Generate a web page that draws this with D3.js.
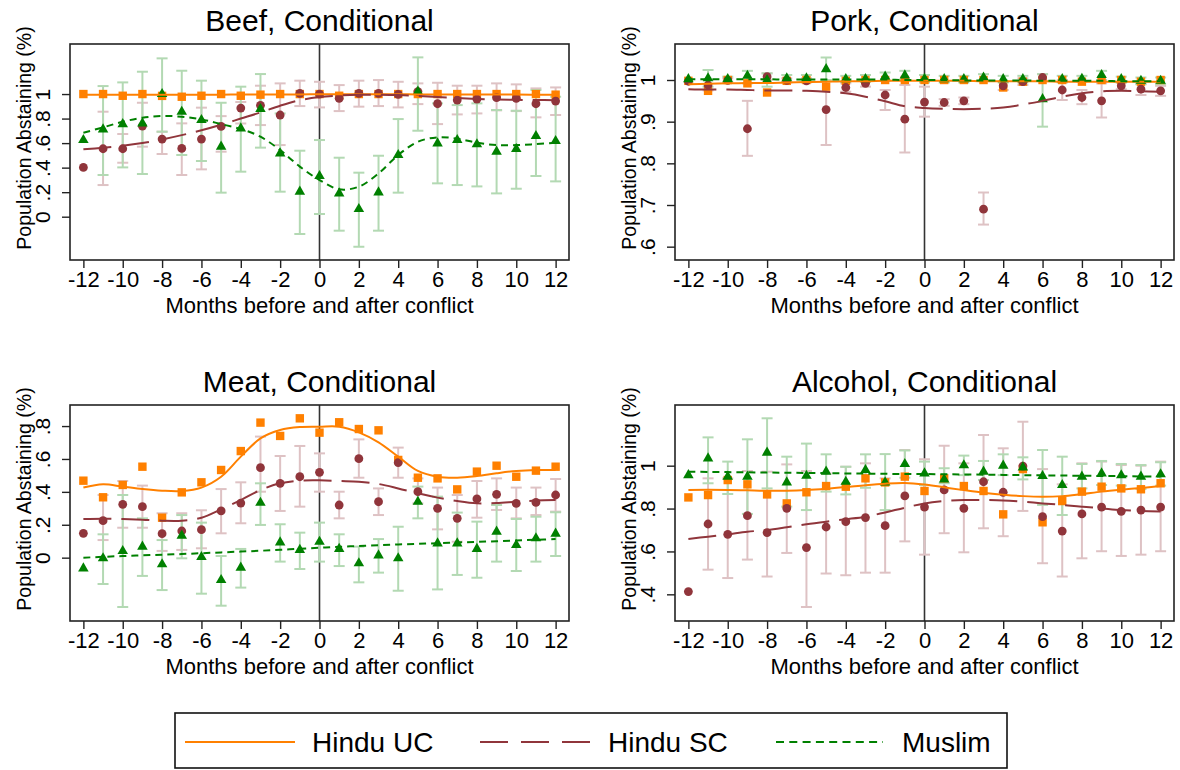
<!DOCTYPE html>
<html>
<head>
<meta charset="utf-8">
<script src="https://cdn.jsdelivr.net/npm/d3@7"></script>
<style>
  body { margin: 0; background: #fff; }
  svg { display: block; font-family: Arial, "Liberation Sans", sans-serif; }
</style>
</head>
<body>
<div id="chart"></div>
<script>
// Monate relativ zum Konflikt
var months = [-12,-11,-10,-9,-8,-7,-6,-5,-4,-3,-2,-1,0,1,2,3,4,5,6,7,8,9,10,11,12];
var monthTicks = [-12,-10,-8,-6,-4,-2,0,2,4,6,8,10,12];
var seriesNames = ["Hindu UC", "Hindu SC", "Muslim"];

// Beef
var beefTicks = [0, .2, .4, .6, .8, 1];
var beefUC = [1.0,1.0,.986,1.0,.985,.978,.986,1.0,.986,.995,1.0,1.0,1.0,.986,1.0,1.0,1.0,1.0,1.0,1.0,1.0,1.0,1.0,1.0,.995];
var beefSC = [.402,.554,.554,.739,.633,.557,.633,.736,.886,.908,.829,1.005,1.0,.965,1.005,1.005,.997,1.02,.921,.951,.959,.97,.965,.921,.943];
var beefMU = [.625,.712,.755,.761,1.0,.856,.788,.571,.72,.878,.516,.204,.332,.19,.063,.198,.503,1.02,.598,.625,.59,.53,.552,.658,.617];
var beefSCLo = [null,.258,.44,.571,.511,.34,.386,.53,.76,.747,.584,.902,.891,.861,.897,.902,.891,.918,.755,.834,.842,.867,.861,.81,.829];
var beefSCHi = [null,.856,.674,.929,.693,.761,.889,.82,.935,1.068,1.087,1.109,1.1,1.073,1.109,1.114,1.1,1.087,1.092,1.068,1.068,1.087,1.079,1.046,1.054];
var beefMULo = [null,.34,.402,.348,.693,.503,.454,.196,.367,.563,.204,-.141,.022,-.114,-.245,-.114,.196,.701,.272,.258,.247,.19,.228,.332,.288];
var beefMUHi = [null,1.065,1.095,1.182,1.291,1.19,1.109,.929,1.06,1.163,.842,.538,.625,.481,.359,.497,.796,1.299,.924,.91,.924,.87,.864,1.033,.978];
var beefUCFit = [.994,.994,.994,.994,.995,.995,.995,.995,.996,.996,.997,.997,.998,.998,.998,.998,.998,.997,.997,.997,.996,.996,.996,.995,.995];
var beefSCFit = [.549,.562,.578,.600,.630,.665,.705,.75,.80,.85,.905,.950,.975,.988,.994,.995,.992,.985,.975,.967,.960,.956,.953,.951,.950];
var beefMUFit = [.685,.728,.774,.807,.821,.815,.793,.755,.715,.652,.543,.408,.299,.223,.245,.353,.503,.611,.647,.636,.603,.584,.584,.592,.603];

// Pork
var porkTicks = [.6, .7, .8, .9, 1];
var porkUC = [.998,.974,1.0,.992,.970,.998,1.0,.984,.998,1.0,1.0,1.0,1.0,1.0,1.0,1.0,.982,.996,1.0,1.0,.996,1.0,1.0,.996,1.0];
var porkSC = [.997,.988,.999,.883,1.008,.999,.998,.929,.982,.992,.964,.906,.947,.946,.95,.69,.986,.996,1.006,.976,.958,.95,.986,.978,.974];
var porkMU = [1.002,1.004,1.002,1.01,1.0,1.004,1.004,1.026,1.002,1.002,1.008,1.011,1.003,1.002,1.002,1.006,1.002,1.002,.954,1.002,1.003,1.012,1.002,.998,.998];
var porkSCLo = [null,.975,.994,.818,1.0,.994,.994,.844,.972,.984,.928,.826,.912,.938,.942,.653,.976,.988,.998,.952,.942,.91,.978,.964,.962];
var porkSCHi = [null,1.0,1.004,.95,1.016,1.004,1.004,1.0,.992,1.0,.976,.988,.984,.954,.958,.73,.996,1.004,1.014,1.0,.976,.992,.994,.99,.986];
var porkMULo = [null,.984,.996,.992,.984,.996,.996,1.0,.996,.996,.998,1.0,.994,.994,.994,.998,.994,.994,.888,.994,.996,1.0,.994,.99,.99];
var porkMUHi = [null,1.024,1.008,1.022,1.016,1.012,1.012,1.054,1.01,1.012,1.018,1.022,1.012,1.01,1.01,1.014,1.01,1.01,1.014,1.01,1.01,1.022,1.008,1.006,1.006];
var porkUCFit = [.990,.991,.992,.993,.993,.994,.995,.996,.997,.997,.998,.998,.998,.998,.998,.997,.997,.997,.997,.996,.996,.996,.996,.996,.996];
var porkSCFit = [.978,.977,.977,.976,.975,.975,.974,.972,.968,.960,.949,.937,.933,.931,.930,.931,.934,.941,.950,.960,.968,.973,.974,.973,.972];
var porkMUFit = [1.002,1.002,1.002,1.002,1.002,1.001,1.001,1.001,1.001,1.001,1.001,1.0,1.0,1.0,.999,.999,.999,.999,.998,.998,.998,.998,.997,.997,.997];

// Meat
var meatTicks = [0, .2, .4, .6, .8];
var meatUC = [.468,.367,.442,.553,.243,.397,.458,.533,.648,.821,.74,.847,.76,.823,.782,.774,.594,.486,.482,.415,.523,.559,.492,.529,.553];
var meatSC = [.148,.225,.324,.31,.146,.162,.17,.284,.332,.547,.452,.492,.519,.32,.602,.34,.578,.401,.3,.239,.357,.385,.33,.336,.381];
var meatMU = [-.065,-.004,.04,.067,-.04,.134,.004,-.136,-.061,.334,.093,.047,.097,.053,-.034,.014,-.004,.34,.087,.087,.053,.158,.077,.118,.146];
var meatSCLo = [null,.107,.182,.182,.041,.047,.057,.148,.209,.401,.284,.31,.401,.239,.486,.259,.486,.33,.172,.097,.243,.29,.239,.259,.28];
var meatSCHi = [null,.381,.466,.438,.27,.27,.288,.417,.458,.736,.618,.679,.634,.401,.719,.421,.669,.482,.426,.381,.466,.482,.426,.426,.478];
var meatMULo = [null,-.16,-.3,-.111,-.197,-.004,-.219,-.292,-.182,.199,-.024,-.069,-.024,-.051,-.15,-.091,-.201,.239,-.193,-.105,-.122,-.024,-.081,-.024,.01];
var meatMUHi = [null,.142,.381,.239,.107,.259,.213,.01,.053,.452,.203,.152,.213,.142,.067,.113,.188,.432,.371,.274,.219,.32,.235,.249,.276];
var meatUCFit = [.426,.446,.432,.417,.407,.405,.426,.492,.614,.725,.776,.794,.796,.796,.762,.701,.614,.527,.492,.486,.496,.513,.527,.533,.533];
var meatSCFit = [.235,.237,.235,.231,.225,.225,.243,.294,.35,.411,.452,.468,.47,.466,.462,.448,.421,.391,.365,.344,.33,.332,.34,.347,.35];
var meatMUFit = [0,.005,.010,.014,.018,.022,.027,.032,.037,.042,.048,.054,.060,.066,.071,.076,.080,.084,.088,.092,.096,.100,.104,.109,.113];

// Alcohol
var alcTicks = [.4, .6, .8, 1];
var alcUC = [.852,.863,.933,.913,.866,.824,.876,.905,.902,.941,.922,.949,.882,.941,.905,.882,.773,.984,.736,.835,.879,.902,.894,.89,.918];
var alcSC = [.413,.728,.68,.767,.688,.801,.618,.714,.739,.758,.72,.859,.807,.887,.801,.925,.876,.998,.762,.695,.775,.807,.787,.793,.807];
var alcMU = [.956,1.034,.949,.949,1.061,.922,.953,.972,.925,.98,.922,1.008,.964,.936,1.002,.972,1.0,.992,.952,.91,.949,.964,.955,.949,.96];
var alcSCLo = [null,.515,.476,.562,.483,.593,.341,.497,.489,.501,.501,.647,.585,.685,.596,.708,.671,.789,.545,.483,.568,.601,.579,.585,.601];
var alcSCHi = [null,.941,.941,.975,.972,1.006,.975,.964,.995,1.011,.941,1.073,1.03,1.093,1.011,1.143,1.081,1.205,.984,.913,1.011,1.019,1.003,1.0,1.019];
var alcMULo = [null,.918,.868,.775,.894,.809,.793,.879,.866,.897,.793,.944,.91,.918,.956,.933,.956,.936,.817,.77,.894,.91,.907,.891,.907];
var alcMUHi = [null,1.132,1.019,1.123,1.221,1.042,1.103,1.053,.995,1.053,1.054,1.071,1.019,.988,1.047,1.022,1.053,1.039,1.073,1.042,1.008,1.022,1.008,1.003,1.016];
var alcUCFit = [.887,.888,.887,.885,.883,.883,.886,.892,.900,.909,.916,.919,.912,.899,.886,.874,.865,.858,.855,.858,.868,.879,.888,.896,.905];
var alcSCFit = [.658,.669,.68,.692,.7,.713,.727,.739,.75,.762,.782,.804,.824,.835,.84,.84,.838,.832,.824,.817,.809,.801,.793,.789,.786];
var alcMUFit = [.972,.971,.970,.969,.968,.967,.966,.965,.964,.963,.962,.961,.961,.960,.959,.958,.957,.956,.955,.954,.953,.952,.951,.950,.949];

// Farben (Stata-Look)
var colUC = "#ff8000", colSC = "#90353b", colMU = "#008000";
var ciSC = "#dec2c4", ciMU = "#b3d9b3";

var width = 1180, height = 770;
var plotW = 499, plotH = 216;

var svg = d3.select("#chart").append("svg")
  .attr("width", width).attr("height", height);

var panels = [
  { title: "Beef, Conditional", x0: 70, y0: 44, domain: [-0.353, 1.408], ticks: beefTicks,
    uc: beefUC, sc: beefSC, mu: beefMU, scLo: beefSCLo, scHi: beefSCHi, muLo: beefMULo, muHi: beefMUHi,
    ucFit: beefUCFit, scFit: beefSCFit, muFit: beefMUFit },
  { title: "Pork, Conditional", x0: 675, y0: 44, domain: [0.568, 1.0864], ticks: porkTicks,
    uc: porkUC, sc: porkSC, mu: porkMU, scLo: porkSCLo, scHi: porkSCHi, muLo: porkMULo, muHi: porkMUHi,
    ucFit: porkUCFit, scFit: porkSCFit, muFit: porkMUFit },
  { title: "Meat, Conditional", x0: 70, y0: 405, domain: [-0.385, 0.928], ticks: meatTicks,
    uc: meatUC, sc: meatSC, mu: meatMU, scLo: meatSCLo, scHi: meatSCHi, muLo: meatMULo, muHi: meatMUHi,
    ucFit: meatUCFit, scFit: meatSCFit, muFit: meatMUFit },
  { title: "Alcohol, Conditional", x0: 675, y0: 405, domain: [0.2756, 1.283], ticks: alcTicks,
    uc: alcUC, sc: alcSC, mu: alcMU, scLo: alcSCLo, scHi: alcSCHi, muLo: alcMULo, muHi: alcMUHi,
    ucFit: alcUCFit, scFit: alcSCFit, muFit: alcMUFit }
];

// Stata-Format: ".8" statt "0.8"
function stataFmt(v) {
  if (v === 0) return "0";
  return String(+v.toFixed(2)).replace(/^0\./, ".");
}

panels.forEach(function(p) {
  var g = svg.append("g").attr("transform", "translate(" + p.x0 + "," + p.y0 + ")");
  var x = d3.scaleLinear().domain([-12.68, 12.68]).range([0, plotW]);
  var y = d3.scaleLinear().domain(p.domain).range([plotH, 0]);

  // Titel
  g.append("text")
    .attr("x", plotW / 2).attr("y", -13)
    .attr("text-anchor", "middle")
    .style("font-size", "30px")
    .text(p.title);

  // Achsen (Bindestrich statt Unicode-Minus)
  var xAxis = d3.axisBottom(x).tickValues(monthTicks).tickSize(8).tickPadding(3)
    .tickFormat(function(d) { return String(d); });
  g.append("g").attr("class", "x axis")
    .attr("transform", "translate(0," + plotH + ")")
    .call(xAxis)
    .call(function(s) {
      s.select(".domain").remove();
      s.selectAll("line").attr("stroke", "#222").attr("stroke-width", 1.4);
      s.selectAll("text").style("font-size", "22px").attr("fill", "#000");
    });

  var yAxis = d3.axisLeft(y).tickValues(p.ticks).tickSize(8).tickFormat(stataFmt);
  g.append("g").attr("class", "y axis")
    .call(yAxis)
    .call(function(s) {
      s.select(".domain").remove();
      s.selectAll("line").attr("stroke", "#222").attr("stroke-width", 1.4);
      s.selectAll("text")
        .style("font-size", "21px").attr("fill", "#000")
        .attr("x", null).attr("dy", null)
        .attr("text-anchor", "middle")
        .attr("transform", "translate(-20,0) rotate(-90)");
    });

  // Achsentitel
  g.append("text")
    .attr("text-anchor", "middle")
    .attr("transform", "translate(-39," + (plotH / 2 - 14) + ") rotate(-90)")
    .style("font-size", "19.5px")
    .text("Population Abstaining (%)");
  g.append("text")
    .attr("x", plotW / 2).attr("y", plotH + 53)
    .attr("text-anchor", "middle")
    .style("font-size", "22px")
    .text("Months before and after conflict");

  // Vertikale Linie bei 0
  g.append("line")
    .attr("x1", x(0)).attr("x2", x(0)).attr("y1", 0).attr("y2", plotH)
    .attr("stroke", "#333").attr("stroke-width", 1.6);

  // Konfidenzintervalle
  function drawCI(lo, hi, color) {
    var rows = months.map(function(m, i) { return { m: m, lo: lo[i], hi: hi[i] }; })
      .filter(function(d) { return d.lo !== null; });
    var ci = g.append("g").attr("stroke", color).attr("stroke-width", 2).attr("fill", "none");
    ci.selectAll(".v").data(rows).enter().append("line")
      .attr("x1", function(d) { return x(d.m); }).attr("x2", function(d) { return x(d.m); })
      .attr("y1", function(d) { return y(d.lo); }).attr("y2", function(d) { return y(d.hi); });
    ["lo", "hi"].forEach(function(k) {
      ci.selectAll(".c" + k).data(rows).enter().append("line")
        .attr("x1", function(d) { return x(d.m) - 5.5; }).attr("x2", function(d) { return x(d.m) + 5.5; })
        .attr("y1", function(d) { return y(d[k]); }).attr("y2", function(d) { return y(d[k]); });
    });
  }
  drawCI(p.scLo, p.scHi, ciSC);
  drawCI(p.muLo, p.muHi, ciMU);

  // Marker
  g.append("g").selectAll("rect").data(p.uc).enter().append("rect")
    .attr("x", function(d, i) { return x(months[i]) - 4.2; })
    .attr("y", function(d) { return y(d) - 4.2; })
    .attr("width", 8.4).attr("height", 8.4)
    .attr("fill", colUC);
  g.append("g").selectAll("circle").data(p.sc).enter().append("circle")
    .attr("cx", function(d, i) { return x(months[i]); })
    .attr("cy", function(d) { return y(d); })
    .attr("r", 4.4)
    .attr("fill", colSC);
  var tri = d3.symbol().type(d3.symbolTriangle).size(48);
  g.append("g").selectAll("path").data(p.mu).enter().append("path")
    .attr("d", tri)
    .attr("transform", function(d, i) { return "translate(" + x(months[i]) + "," + y(d) + ")"; })
    .attr("fill", colMU);

  // Geglättete Linien
  function drawFit(vals, color, dash) {
    var line = d3.line()
      .x(function(d, i) { return x(months[i]); })
      .y(function(d) { return y(d); })
      .curve(d3.curveCatmullRom);
    g.append("path").datum(vals)
      .attr("d", line)
      .attr("fill", "none")
      .attr("stroke", color)
      .attr("stroke-width", 2)
      .attr("stroke-dasharray", dash);
  }
  drawFit(p.ucFit, colUC, null);
  drawFit(p.scFit, colSC, "28,10");
  drawFit(p.muFit, colMU, "7,5");

  // Rahmen
  g.append("rect")
    .attr("width", plotW).attr("height", plotH)
    .attr("fill", "none").attr("stroke", "#222").attr("stroke-width", 1.6);
});

// Legende
var legend = svg.append("g");
legend.append("rect")
  .attr("x", 175).attr("y", 713).attr("width", 832).attr("height", 55)
  .attr("fill", "#fff").attr("stroke", "#111").attr("stroke-width", 1.6);
var legendItems = [
  { name: seriesNames[0], color: colUC, dash: null, x1: 185, x2: 295, tx: 312 },
  { name: seriesNames[1], color: colSC, dash: "28,13", x1: 480, x2: 590, tx: 608 },
  { name: seriesNames[2], color: colMU, dash: "8,5.3", x1: 776, x2: 883, tx: 902 }
];
legendItems.forEach(function(it) {
  legend.append("line")
    .attr("x1", it.x1).attr("x2", it.x2).attr("y1", 742).attr("y2", 742)
    .attr("stroke", it.color).attr("stroke-width", 2.2)
    .attr("stroke-dasharray", it.dash);
  legend.append("text")
    .attr("x", it.tx).attr("y", 752)
    .style("font-size", "28px")
    .text(it.name);
});
</script>
</body>
</html>
